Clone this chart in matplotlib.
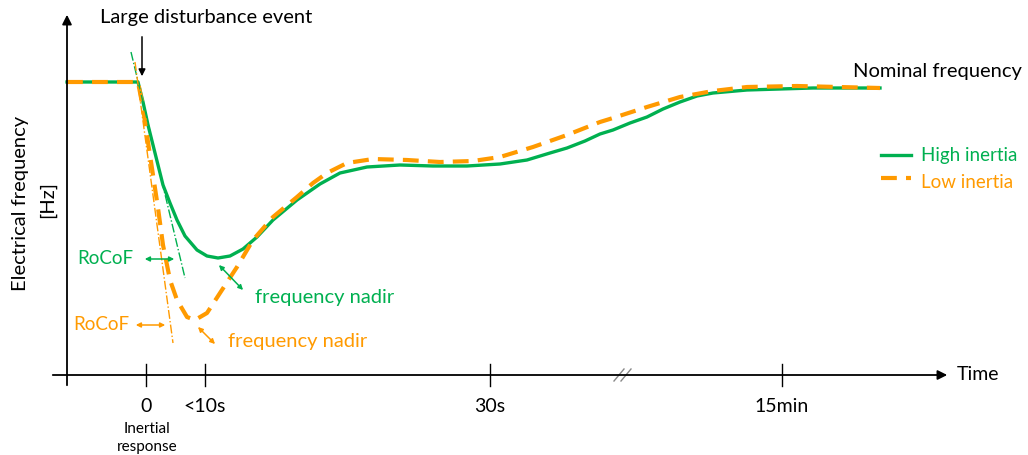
import numpy as np
import matplotlib.pyplot as plt

# Conceptual frequency response after a large disturbance.
# Coordinates: x = time position along the drawn axis, y = frequency position (downwards = lower)
green = "#00B050"
orange = "#FF9A00"

high_t = [67, 138, 143, 148, 153, 158, 163, 170, 177, 185, 197, 207, 218, 230, 243, 257,
          273, 297, 320, 340, 367, 400, 433, 467, 500, 527, 550, 567, 585, 600, 613, 630,
          647, 663, 680, 697, 713, 747, 780, 813, 880]
high_f = [82, 82, 102, 125, 145, 165, 185, 203, 220, 236, 250, 256, 258, 256, 249, 237,
          220, 200, 184, 173, 167, 165, 166, 166, 164, 160, 153, 148, 141, 134, 130, 123,
          117, 109, 102, 96, 93, 90, 89, 88, 88]

low_t = [67, 138, 143, 148, 153, 158, 163, 170, 177, 187, 195, 207, 220, 237, 253, 273,
         297, 313, 327, 347, 373, 407, 440, 473, 500, 533, 567, 600, 613, 647, 680, 713,
         747, 797, 880]
low_f = [82, 82, 108, 142, 175, 208, 245, 280, 300, 317, 320, 313, 293, 267, 240, 217,
         197, 183, 173, 163, 159, 160, 162, 161, 157, 147, 135, 122, 118, 107, 97, 91,
         87, 86, 88]

# RoCoF tangents at the disturbance
rocof_high_t = [131, 185]
rocof_high_f = [52, 278]
rocof_low_t = [135, 173]
rocof_low_f = [62, 343]

tick_pos = [146, 205, 490, 782]
tick_labels = ["0", "<10s", "30s", "15min"]

fig = plt.figure(figsize=(10.28, 4.55), dpi=100)
ax = fig.add_axes([0, 0, 1, 1])
ax.set_xlim(0, 1028)
ax.set_ylim(455, 0)
ax.axis("off")

plt.rcParams["font.family"] = ["Lato", "DejaVu Sans"]

# axes with arrow heads
ax.annotate("", xy=(950, 375), xytext=(50, 375),
            arrowprops=dict(arrowstyle="-|>", color="black", lw=1.3, mutation_scale=14))
ax.annotate("", xy=(67, 12), xytext=(67, 388),
            arrowprops=dict(arrowstyle="-|>", color="black", lw=1.3, mutation_scale=14))
ax.text(957, 375, "Time", fontsize=14, va="center", ha="left")
ax.text(21, 203, "Electrical frequency", fontsize=14.5, rotation=90, va="center", ha="center")
ax.text(47, 200, "[Hz]", fontsize=14.5, rotation=90, va="center", ha="center")

# ticks and labels
for pos, lab in zip(tick_pos, tick_labels):
    ax.plot([pos, pos], [364, 386], color="black", lw=1.0)
    ax.text(pos, 407, lab, fontsize=14, ha="center", va="center")
ax.text(147, 438, "Inertial\nresponse", fontsize=11, ha="center", va="center", linespacing=1.3)

# axis break mark
ax.plot([620, 629], [375, 375], color="white", lw=1.6)
for dx in (-4, 3):
    ax.plot([618 + dx, 628 + dx], [381, 369], color="#888888", lw=1.0)

# frequency curves
ax.plot(high_t, high_f, color=green, lw=2.4, solid_joinstyle="round")
ax.plot(low_t, low_f, color=orange, lw=3.0, dashes=(3.8, 2.2))

# RoCoF tangents
ax.plot(rocof_high_t, rocof_high_f, color=green, lw=1.0, ls="-.")
ax.plot(rocof_low_t, rocof_low_f, color=orange, lw=1.0, ls="-.")

# annotations
ax.text(206, 18, "Large disturbance event", fontsize=14.5, ha="center", va="center")
ax.annotate("", xy=(142, 79), xytext=(142, 34),
            arrowprops=dict(arrowstyle="-|>", color="black", lw=1.1, mutation_scale=10))
ax.text(1022, 72, "Nominal frequency", fontsize=14.5, ha="right", va="center")

dbl = dict(arrowstyle="<|-|>", lw=1.1, mutation_scale=7)
ax.annotate("", xy=(142, 259), xytext=(177, 259), arrowprops=dict(dbl, color=green))
ax.text(133, 259, "RoCoF", fontsize=13.5, color=green, ha="right", va="center")
ax.annotate("", xy=(133, 325), xytext=(168, 325), arrowprops=dict(dbl, color=orange))
ax.text(129, 325, "RoCoF", fontsize=13.5, color=orange, ha="right", va="center")

ax.annotate("", xy=(217, 263), xytext=(245, 292), arrowprops=dict(dbl, color=green))
ax.text(255, 298, "frequency nadir", fontsize=14.5, color=green, ha="left", va="center")
ax.annotate("", xy=(196, 325), xytext=(217, 346), arrowprops=dict(dbl, color=orange))
ax.text(228, 341, "frequency nadir", fontsize=14.5, color=orange, ha="left", va="center")

# legend keys
ax.plot([881, 911], [155, 155], color=green, lw=2.4)
ax.text(921, 155, "High inertia", fontsize=13.5, color=green, ha="left", va="center")
ax.plot([881, 911], [178, 178], color=orange, lw=3.0, dashes=(3.8, 2.2))
ax.text(921, 182, "Low inertia", fontsize=13.5, color=orange, ha="left", va="center")

fig.savefig("out.png", dpi=100)
